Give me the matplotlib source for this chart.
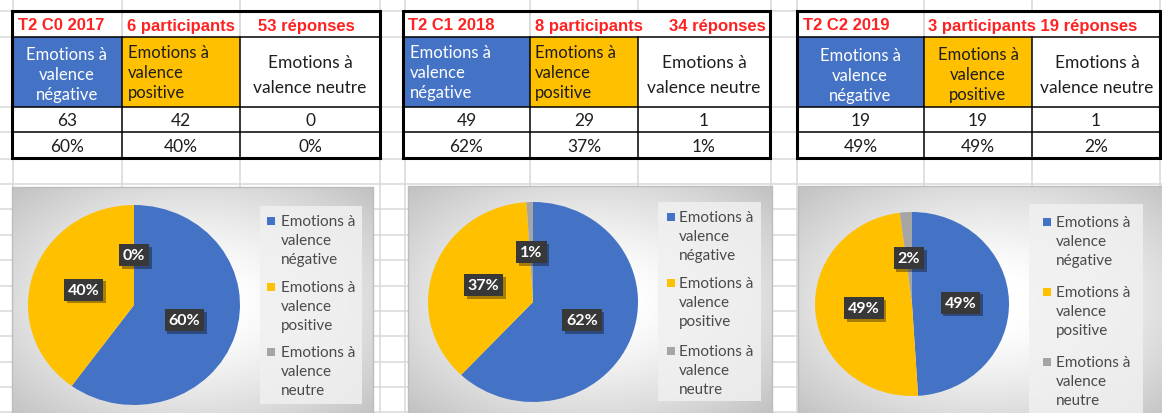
import textwrap

import numpy as np
import matplotlib
matplotlib.use("Agg")
import matplotlib.pyplot as plt
import matplotlib.patheffects as pe
from matplotlib.patches import Rectangle

W, H = 1162, 414

# ---- data -------------------------------------------------------------
categories = ["Emotions à valence négative",
              "Emotions à valence positive",
              "Emotions à valence neutre"]
slice_colors = ["#4472C4", "#FFC000", "#A5A5A5"]

cohorts = ["T2 C0 2017", "T2 C1 2018", "T2 C2 2019"]
participants = ["6 participants", "8 participants", "3 participants"]
responses = ["53 réponses", "34 réponses", "19 réponses"]

counts_2017 = [63, 42, 0]
counts_2018 = [49, 29, 1]
counts_2019 = [19, 19, 1]

pct_2017 = [60, 40, 0]
pct_2018 = [62, 37, 1]
pct_2019 = [49, 49, 2]

counts = [counts_2017, counts_2018, counts_2019]
percents = [pct_2017, pct_2018, pct_2019]

# ---- layout (pixel coordinates, origin top-left) ----------------------
ROWS = [12, 38, 108, 133, 159]
blocks = [
    dict(cols=[12, 122, 240, 380],
         title_pos=[(18, "left"), (127, "left"), (258, "left")],
         head_align=["center", "left", "center"], head_x=[67, 128, 310],
         head_mid=[75, 73, 75.5],
         chart=(12, 188, 373, 430), pie=(134, 306, 106, 100),
         legend=(260, 207, 362, 405), leg_mx=271, leg_tx=281,
         leg_y=[222, 288, 353]),
    dict(cols=[403, 530, 638, 770],
         title_pos=[(408, "left"), (535, "left"), (766, "right")],
         head_align=["left", "left", "center"], head_x=[410, 535, 704],
         head_mid=[73, 73, 75.5],
         chart=(408, 187, 772, 426), pie=(533, 303, 105, 100),
         legend=(658, 203, 761, 402), leg_mx=671, leg_tx=679,
         leg_y=[218, 284, 352]),
    dict(cols=[797, 924, 1032, 1160],
         title_pos=[(803, "left"), (928, "left"), None],
         head_align=["center", "center", "center"], head_x=[860, 978, 1097],
         head_mid=[76, 75, 75.5],
         chart=(798, 187, 1175, 430), pie=(912, 305, 97, 92),
         legend=(1029, 205, 1143, 430), leg_mx=1047, leg_tx=1056,
         leg_y=[223, 293, 363]),
]

GRID_X = [13, 122, 240, 380, 405, 530, 638, 771, 797, 924, 1032, 1160]
GRID_Y = [12, 38, 108, 133, 160, 185, 210, 236, 261, 287, 312, 337, 363,
          388, 413]

BODY = "Lato"
TITLE = "Liberation Sans"
TITLE_RED = "#FF2222"
INK = "#1E1E1E"
LEG_INK = "#4A4A4A"

fig = plt.figure(figsize=(W / 100, H / 100), dpi=100)
fig.patch.set_facecolor("white")

bg = fig.add_axes([0, 0, 1, 1])
bg.set_xlim(0, W)
bg.set_ylim(H, 0)
bg.axis("off")

# spreadsheet grid
for x in GRID_X:
    bg.plot([x, x], [0, H], color="#D9D9D9", lw=1.1, zorder=0)
for y in GRID_Y:
    bg.plot([0, W], [y, y], color="#D9D9D9", lw=1.1, zorder=0)


def line(x0, y0, x1, y1, color="black", lw=1.1, z=5):
    bg.plot([x0, x1], [y0, y1], color=color, lw=lw, zorder=z,
            solid_capstyle="projecting")


def chart_background(x0, y0, x1, y1):
    nx, ny = int(x1 - x0), int(y1 - y0)
    X, Y = np.meshgrid(np.linspace(-1, 1, nx), np.linspace(-1, 1, ny))
    d = np.sqrt((X * 1.0) ** 2 + (Y * 1.05 + 0.05) ** 2) / np.sqrt(2)
    v = np.clip(1.0 - 0.30 * np.clip(d - 0.15, 0, None) ** 1.3, 0, 1)
    img = np.dstack([v, v, v])
    bg.imshow(img, extent=(x0, x1, y1, y0), aspect="auto",
              interpolation="bilinear", zorder=2)
    bg.add_patch(Rectangle((x0, y0), x1 - x0, y1 - y0, fill=False,
                           edgecolor="#BDBDBD", lw=1.0, zorder=3))


for i, b in enumerate(blocks):
    cx = b["cols"]
    x0, x1 = cx[0], cx[-1]
    # cells
    bg.add_patch(Rectangle((x0, ROWS[0]), x1 - x0, ROWS[-1] - ROWS[0],
                           facecolor="white", edgecolor="none", zorder=1))
    bg.add_patch(Rectangle((cx[0], ROWS[1]), cx[1] - cx[0], ROWS[2] - ROWS[1],
                           facecolor=slice_colors[0], edgecolor="none", zorder=1))
    bg.add_patch(Rectangle((cx[1], ROWS[1]), cx[2] - cx[1], ROWS[2] - ROWS[1],
                           facecolor=slice_colors[1], edgecolor="none", zorder=1))
    # inner rules
    for y in ROWS[1:-1]:
        line(x0, y, x1, y)
    for k, x in enumerate(cx[1:-1]):
        line(x, ROWS[1], x, ROWS[-1])
        if i == 0 or k == 0:
            line(x, ROWS[0], x, ROWS[1], color="#D0D0D0", lw=1.1, z=4)
    # outer border
    bg.add_patch(Rectangle((x0, ROWS[0]), x1 - x0, ROWS[-1] - ROWS[0],
                           fill=False, edgecolor="black", lw=2.2, zorder=6))

    # title row
    title_texts = [cohorts[i], participants[i], responses[i]]
    if b["title_pos"][2] is None:
        title_texts = [cohorts[i], participants[i] + " " + responses[i]]
    for txt, pos in zip(title_texts, b["title_pos"]):
        bg.text(pos[0], 26, txt, ha=pos[1], va="center", color=TITLE_RED,
                fontsize=12, fontweight="bold", family=TITLE, zorder=7)

    # header cells
    for j, name in enumerate(categories):
        lines = textwrap.wrap(name, 10 if j < 2 else 14)
        step = 20 if len(lines) == 3 else 25
        top = b["head_mid"][j] - step * (len(lines) - 1) / 2
        col = "white" if j == 0 else INK
        for n, ln in enumerate(lines):
            bg.text(b["head_x"][j], top + n * step, ln, ha=b["head_align"][j],
                    va="center", color=col, fontsize=12 if j < 2 else 12.5,
                    family=BODY, zorder=7)

    # values and percentages
    for j in range(3):
        xm = (cx[j] + cx[j + 1]) / 2
        bg.text(xm, 121, f"{counts[i][j]}", ha="center", va="center",
                color=INK, fontsize=12.5, family=BODY, zorder=7)
        bg.text(xm, 147, f"{percents[i][j]}%", ha="center", va="center",
                color=INK, fontsize=12.5, family=BODY, zorder=7)

    # chart area
    chart_background(*b["chart"])
    lx0, ly0, lx1, ly1 = b["legend"]
    bg.add_patch(Rectangle((lx0, ly0), lx1 - lx0, ly1 - ly0,
                           facecolor="#F0F0F0", alpha=0.85, edgecolor="none",
                           zorder=4))
    for j, name in enumerate(categories):
        y = b["leg_y"][j]
        bg.add_patch(Rectangle((b["leg_mx"] - 4, y - 4), 8, 8,
                               facecolor=slice_colors[j], edgecolor="none",
                               zorder=5))
        for n, ln in enumerate(textwrap.wrap(name, 10)):
            bg.text(b["leg_tx"], y + n * 19, ln, ha="left", va="center",
                    color=LEG_INK, fontsize=11, family=BODY, zorder=5)

    # pie
    pcx, pcy, rx, ry = b["pie"]
    pax = fig.add_axes([(pcx - rx) / W, 1 - (pcy + ry) / H,
                        2 * rx / W, 2 * ry / H])
    wedges, _, autotexts = pax.pie(
        percents[i], colors=slice_colors, startangle=90, counterclock=False,
        autopct="%.0f%%", pctdistance=0.5,
        wedgeprops=dict(linewidth=0),
        textprops=dict(color="white", fontsize=11.5, fontweight="bold",
                       family=BODY))
    pax.set_aspect("auto")
    pax.set_xlim(-1, 1)
    pax.set_ylim(-1, 1)
    pax.axis("off")
    for t in autotexts:
        t.set_bbox(dict(boxstyle="square,pad=0.25", facecolor="#383838",
                        edgecolor="none"))
        t.get_bbox_patch().set_path_effects(
            [pe.SimplePatchShadow(offset=(2, -2), shadow_rgbFace="black",
                                  alpha=0.35), pe.Normal()])

fig.savefig("out.png", dpi=100, facecolor="white")
